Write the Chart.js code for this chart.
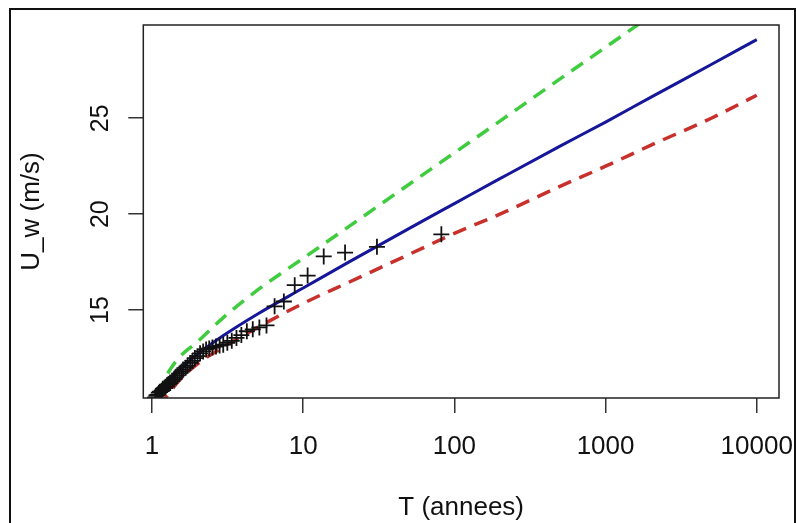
<!DOCTYPE html>
<html>
<head>
<meta charset="utf-8">
<script src="https://cdn.jsdelivr.net/npm/chart.js@4.4.1/dist/chart.umd.min.js"></script>
<style>
  body { margin: 0; background: #fff; }
  #wrap { width: 796px; height: 523px; }
</style>
</head>
<body>
<div id="wrap"><canvas id="chart" width="796" height="523"></canvas></div>
<script>
// periode de retour des observations (annees) et vitesses observees
const obsT = [82.0, 30.75, 18.92, 13.67, 10.70, 8.79, 7.45, 6.47, 5.72, 5.13,
  4.64, 4.24, 3.90, 3.62, 3.37, 3.15, 2.96, 2.80, 2.65, 2.51,
  2.39, 2.28, 2.18, 2.08, 2.00, 1.92, 1.85, 1.79, 1.72, 1.67,
  1.61, 1.57, 1.52, 1.47, 1.43, 1.40, 1.36, 1.32, 1.29, 1.26,
  1.23, 1.21, 1.18, 1.16, 1.13, 1.11, 1.09, 1.07, 1.05];
const obsU = [18.95, 18.3, 18.0, 17.8, 16.8, 16.3, 15.45, 15.2, 14.2, 14.1,
  14.0, 13.9, 13.7, 13.55, 13.4, 13.3, 13.2, 13.15, 13.1, 13.05,
  13.0, 12.95, 12.85, 12.75, 12.6, 12.5, 12.35, 12.25, 12.1, 12.0,
  11.9, 11.8, 11.7, 11.6, 11.5, 11.4, 11.3, 11.2, 11.15, 11.1,
  11.0, 10.95, 10.9, 10.8, 10.75, 10.7, 10.6, 10.55, 10.45];

// courbe ajustee + intervalle de confiance
const fitT = [1.1, 1.25, 1.5, 2, 3, 5, 10, 20, 50, 100, 200, 500, 1000, 2000, 5000, 10000];
const fitU = [10.4, 11.15, 11.85, 12.7, 13.7, 14.8, 16.15, 17.5, 19.25, 20.55, 21.85, 23.55, 24.8, 26.1, 27.8, 29.1];
const lowU = [10.0, 10.5, 11.3, 12.2, 13.1, 14.1, 15.35, 16.45, 17.9, 19.0, 20.0, 21.45, 22.5, 23.6, 25.0, 26.2];
const upT = [1.1, 1.25, 1.5, 2, 3, 5, 10, 20, 50, 100, 200, 500, 1000, 2000];
const upU = [10.6, 11.6, 12.5, 13.35, 14.65, 16.05, 17.7, 19.35, 21.55, 23.2, 24.85, 27.05, 28.7, 30.35];

// graduations
const xTicks = [1, 10, 100, 1000, 10000];
const xTickLabels = ["1", "10", "100", "1000", "10000"];
const yTicks = [15, 20, 25];
const yTickLabels = ["15", "20", "25"];

const FONT = '"Liberation Sans", Arial, sans-serif';
const pts = (xs, ys) => xs.map((x, i) => ({ x: x, y: ys[i] }));

// cadre du graphique, labels Y tournes (style R) et bordure exterieure
const framePlugin = {
  id: "frame",
  afterDraw(chart) {
    const { ctx, chartArea: a, scales } = chart;
    ctx.save();
    ctx.strokeStyle = "#222";
    ctx.lineWidth = 1.5;
    ctx.strokeRect(a.left, a.top, a.right - a.left, a.bottom - a.top);

    ctx.fillStyle = "#111";
    ctx.font = "25px " + FONT;
    ctx.textAlign = "center";
    ctx.textBaseline = "middle";
    yTicks.forEach((v, i) => {
      ctx.save();
      ctx.translate(101, scales.y.getPixelForValue(v));
      ctx.rotate(-Math.PI / 2);
      ctx.fillText(yTickLabels[i], 0, 0);
      ctx.restore();
    });

    ctx.strokeStyle = "#111";
    ctx.lineWidth = 2;
    ctx.strokeRect(10, 9, 785, 600);
    ctx.restore();
  }
};

const dashed = { borderWidth: 3.5, borderDash: [14, 9], pointRadius: 0, fill: false, clip: 0 };

new Chart(document.getElementById("chart"), {
  type: "line",
  data: {
    datasets: [
      {
        label: "observations",
        data: pts(obsT, obsU),
        showLine: false,
        pointStyle: "cross",
        pointRadius: 8,
        pointBorderWidth: 1.8,
        pointBorderColor: "#111",
        clip: 0
      },
      {
        label: "ajustement",
        data: pts(fitT, fitU),
        borderColor: "#16169a",
        borderWidth: 3,
        pointRadius: 0,
        cubicInterpolationMode: "monotone",
        clip: 0
      },
      Object.assign({ label: "IC sup", data: pts(upT, upU), borderColor: "#3fcc3f", cubicInterpolationMode: "monotone" }, dashed),
      Object.assign({ label: "IC inf", data: pts(fitT, lowU), borderColor: "#c8302c", cubicInterpolationMode: "monotone" }, dashed)
    ]
  },
  options: {
    responsive: false,
    animation: false,
    devicePixelRatio: 1,
    layout: { padding: { top: 25, right: 17, left: 0, bottom: 0 } },
    plugins: { legend: { display: false }, tooltip: { enabled: false } },
    scales: {
      x: {
        type: "logarithmic",
        min: 0.876,
        max: 14030,
        afterBuildTicks: (s) => { s.ticks = xTicks.map(v => ({ value: v })); },
        afterFit: (s) => { s.height = 125; s.paddingLeft = 0; s.paddingRight = 0; },
        grid: { display: true, drawOnChartArea: false, drawTicks: true, tickLength: 15, color: "#333", lineWidth: 1.5 },
        border: { display: false },
        ticks: {
          autoSkip: false, maxRotation: 0, padding: 18, color: "#111",
          font: { family: FONT, size: 26 },
          callback: (v, i) => xTickLabels[i]
        },
        title: { display: true, text: "T (annees)", color: "#111", font: { family: FONT, size: 26 }, padding: { top: 0, bottom: 0 } }
      },
      y: {
        type: "linear",
        min: 10.42,
        max: 29.86,
        afterBuildTicks: (s) => { s.ticks = yTicks.map(v => ({ value: v })); },
        afterFit: (s) => { s.width = 143.3; s.paddingTop = 0; s.paddingBottom = 0; },
        grid: { display: true, drawOnChartArea: false, drawTicks: true, tickLength: 15, color: "#333", lineWidth: 1.5 },
        border: { display: false },
        ticks: { display: false },
        title: { display: true, text: "U_w (m/s)", color: "#111", font: { family: FONT, size: 26 }, padding: { top: 16, bottom: 0 } }
      }
    }
  },
  plugins: [framePlugin]
});
</script>
</body>
</html>
